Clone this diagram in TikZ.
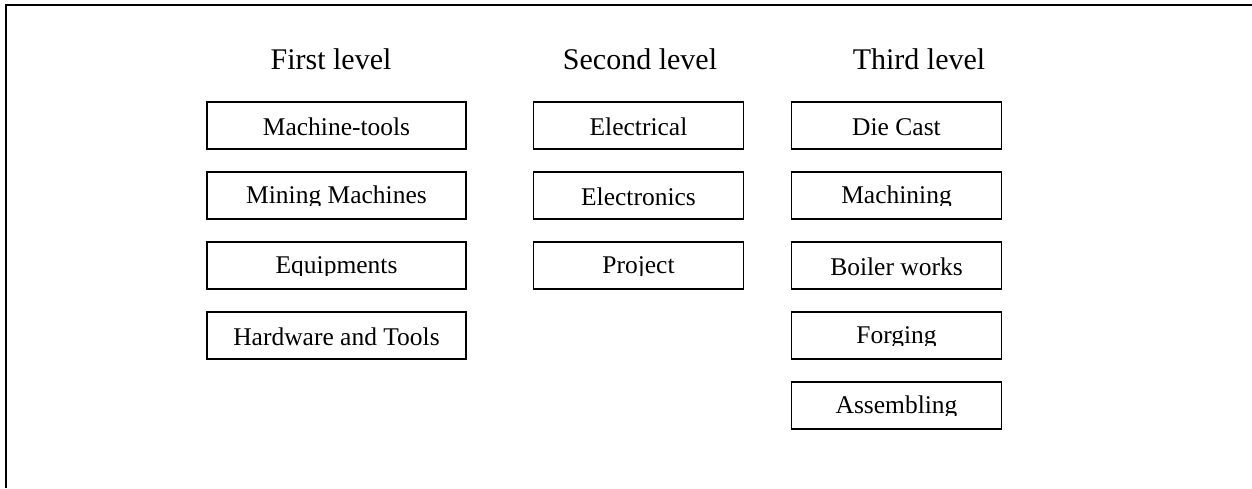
\documentclass[tikz,border=0pt]{standalone}
\usepackage{fontspec}
\setmainfont{Liberation Serif}
\usepackage{tikz}

\begin{document}
\begin{tikzpicture}[x=1pt,y=-1pt]
		\tikzset{levelbox/.style={draw, line width=1.3pt, inner sep=0pt, outer sep=0pt, minimum height=47pt, font=\fontsize{25.5}{25.5}\selectfont, text height=33.5pt, text depth=13.5pt},
			cutbox/.style={levelbox, text height=31pt, text depth=16pt},
			wide/.style={minimum width=259pt}, narrow/.style={minimum width=210pt},
			heading/.style={font=\fontsize{30}{30}\selectfont, inner sep=0pt, anchor=base}};
		% descenders of the lower line are cut off by the box, then the frame is drawn again
		\newcommand{\cutdesc}[1]{\fill[white] ([yshift=-3pt]#1.base -| #1.west) rectangle (#1.south east);
			\draw[line width=1.3pt] (#1.south west) rectangle (#1.north east);}
		\useasboundingbox (0,0) rectangle (1252,488);
		\draw[line width=1.8pt] (5.7,488) -- (5.7,5) -- (1252,5);
		% headings
		\node[heading] (lvlone) at (331,69) {First level};
		\node[heading] (lvltwo) at (640,69) {Second level};
		\node[heading] (lvlthree) at (919,69) {Third level};
		% first level
		\node[levelbox,wide] (tools) at (336.5,125.5) {Machine-tools};
		\node[cutbox,wide] (mining) at (336.5,195.5) {Mining Machines};
		\node[cutbox,wide] (equip) at (336.5,265.5) {Equipments};
		\node[levelbox,wide] (hardware) at (336.5,335.5) {Hardware and Tools};
		% second level
		\node[levelbox,narrow] (electrical) at (638.5,125.5) {Electrical};
		\node[levelbox,narrow] (electronics) at (638.5,195.5) {Electronics};
		\node[cutbox,narrow] (project) at (638.5,265.5) {Project};
		% third level
		\node[levelbox,narrow] (diecast) at (896.5,125.5) {Die Cast};
		\node[cutbox,narrow] (machining) at (896.5,195.5) {Machining};
		\node[levelbox,narrow] (boiler) at (896.5,265.5) {Boiler works};
		\node[cutbox,narrow] (forging) at (896.5,335.5) {Forging};
		\node[cutbox,narrow] (assembling) at (896.5,405.5) {Assembling};
		\cutdesc{mining}
		\cutdesc{equip}
		\cutdesc{project}
		\cutdesc{machining}
		\cutdesc{forging}
		\cutdesc{assembling}
	\end{tikzpicture}
\end{document}
